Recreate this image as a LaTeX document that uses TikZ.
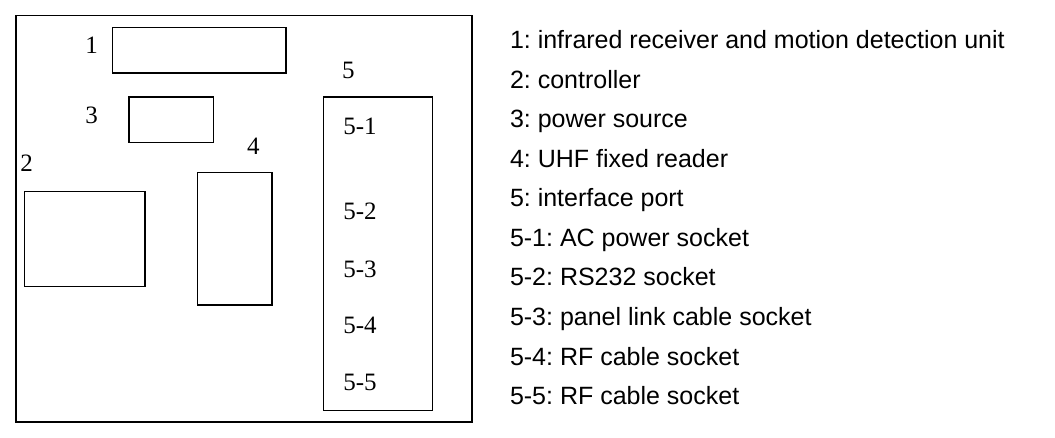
\documentclass[tikz,border=0pt]{standalone}
\usepackage{fontspec}
\setmainfont{Liberation Serif}
\newfontfamily\legendfont{Liberation Sans}
\usetikzlibrary{positioning}
\frenchspacing

\begin{document}
\begin{tikzpicture}[
x=1pt, y=-1pt,
every node/.style={inner sep=0pt, outer sep=0pt},
part/.style={draw, line width=1.6pt},
tag/.style={font=\fontsize{25}{30}\selectfont},
legend/.style={font=\legendfont\fontsize{25}{30}\selectfont, anchor=base west}
]

\useasboundingbox (0,0) rectangle (1055,438);

% =====================================================
% Housing and parts
% =====================================================

\node (housing) [part, minimum width=456pt, minimum height=406pt] at (244,218.7) {};

\node (infrared) [part, minimum width=173.4pt, minimum height=45.7pt] at (199,50.2) {};
\node (power) [part, minimum width=84.3pt, minimum height=45.7pt] at (171.2,119.8) {};
\node (controller) [part, minimum width=120.3pt, minimum height=95pt] at (84.8,239.2) {};
\node (reader) [part, minimum width=74.4pt, minimum height=132.7pt] at (234.5,238.7) {};
\node (port) [part, minimum width=109pt, minimum height=313.7pt] at (377.8,253.8) {};

% =====================================================
% Numbers
% =====================================================

\node (n1) [tag] at (91.7,45.7) {1};
\node (n3) [tag] at (91.7,115) {3};
\node (n2) [tag] at (26.7,163.3) {2};
\node (n4) [tag] at (253.3,146.7) {4};
\node (n5) [tag] at (348.3,70) {5};

\node (s1) [tag, anchor=west] at (343.3,126.7) {5-1};
\node (s2) [tag, anchor=west] at (343.3,211.7) {5-2};
\node (s3) [tag, anchor=west] at (343.3,269) {5-3};
\node (s4) [tag, anchor=west] at (343.3,325) {5-4};
\node (s5) [tag, anchor=west] at (343.3,382.7) {5-5};

% =====================================================
% Legend
% =====================================================

\node (l1) [legend] at (510,49) {1: infrared receiver and motion detection unit};
\node (l2) [legend, below=39.5pt of l1.base west, anchor=base west] {2: controller};
\node (l3) [legend, below=39.5pt of l2.base west, anchor=base west] {3: power source};
\node (l4) [legend, below=39.5pt of l3.base west, anchor=base west] {4: UHF fixed reader};
\node (l5) [legend, below=39.5pt of l4.base west, anchor=base west] {5: interface port};
\node (l6) [legend, below=39.5pt of l5.base west, anchor=base west] {5-1: AC power socket};
\node (l7) [legend, below=39.5pt of l6.base west, anchor=base west] {5-2: RS232 socket};
\node (l8) [legend, below=39.5pt of l7.base west, anchor=base west] {5-3: panel link cable socket};
\node (l9) [legend, below=39.5pt of l8.base west, anchor=base west] {5-4: RF cable socket};
\node (l10) [legend, below=39.5pt of l9.base west, anchor=base west] {5-5: RF cable socket};

\end{tikzpicture}
\end{document}
